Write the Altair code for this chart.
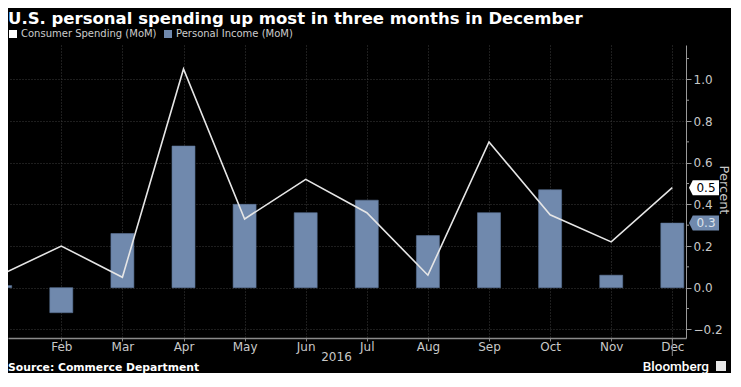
import altair as alt
import pandas as pd

# ---- data ----
month_nums = [1, 2, 3, 4, 5, 6, 7, 8, 9, 10, 11, 12]
month_labels = ["Jan", "Feb", "Mar", "Apr", "May", "Jun", "Jul", "Aug", "Sep", "Oct", "Nov", "Dec"]
spending = [0.06, 0.20, 0.05, 1.05, 0.33, 0.52, 0.36, 0.06, 0.70, 0.35, 0.22, 0.48]
income = [0.01, -0.12, 0.26, 0.68, 0.40, 0.36, 0.42, 0.25, 0.36, 0.47, 0.06, 0.31]
series_names = ["Consumer Spending (MoM)", "Personal Income (MoM)"]
major_ticks = [-0.2, 0.0, 0.2, 0.4, 0.6, 0.8, 1.0]
minor_ticks = [-0.1, 0.1, 0.3, 0.5, 0.7, 0.9, 1.1]
title_text = "U.S. personal spending up most in three months in December"
source_text = "Source: Commerce Department"
brand_text = "Bloomberg"
year_text = "2016"

BLUE = "#7089ad"
W, H = 678, 293
FONT = "DejaVu Sans"

df = pd.DataFrame({"m": month_nums, "spending": spending, "income": income,
                   "series": [series_names[1]] * 12})

xscale = alt.Scale(domain=[1.1277, 12.224], nice=False, zero=False)
yscale = alt.Scale(domain=[-0.2415, 1.165], nice=False, zero=False)

label_expr = "[" + ",".join("'%s'" % s for s in month_labels) + "][datum.value-1]"

xaxis = alt.Axis(values=month_nums[1:], labelExpr=label_expr, title=None,
                 grid=True, gridColor="#3c3c3c", gridDash=[1, 2], gridWidth=1,
                 domainColor="#8a8a8a", domainWidth=1.5, tickColor="#8a8a8a",
                 tickSize=3, labelPadding=0, labelFontSize=12, labelColor="#c8c8c8",
                 labelFont=FONT)
yaxis = alt.Axis(orient="right", values=major_ticks, format=".1f", title="Percent",
                 grid=True, gridColor="#3c3c3c", gridDash=[1, 2], gridWidth=1,
                 domainColor="#9a9a9a", tickColor="#9a9a9a", tickSize=5,
                 labelPadding=2, labelFontSize=12, labelColor="#c8c8c8", labelFont=FONT,
                 titleFont=FONT, titleFontSize=13, titleFontWeight="normal",
                 titleColor="#c8c8c8", titleAngle=90, titleX=37, titleY=H / 2 - 2,
                 titleAlign="center", titleBaseline="middle")

base = alt.Chart(df)

bars = base.mark_bar(clip=True, stroke="#5d7598", strokeWidth=0.6).transform_calculate(
    x0="datum.m - 0.188", x1="datum.m + 0.188"
).encode(
    x=alt.X("x0:Q", scale=xscale, axis=xaxis),
    x2="x1:Q",
    y=alt.Y("income:Q", scale=yscale, axis=yaxis),
    y2=alt.datum(0),
    color=alt.Color("series:N",
                    scale=alt.Scale(domain=series_names, range=["#ffffff", BLUE]),
                    legend=alt.Legend(orient="none", legendX=0, legendY=-16,
                                      direction="horizontal", title=None,
                                      symbolType="square", symbolSize=64,
                                      symbolStrokeWidth=0, labelFont=FONT,
                                      labelFontSize=10, labelColor="#cccccc",
                                      labelOffset=3, columnPadding=6)),
)

line = base.mark_line(clip=True, color="#e6e6e6", strokeWidth=1.6).encode(
    x=alt.X("m:Q", scale=xscale),
    y=alt.Y("spending:Q", scale=yscale),
)

minor = alt.Chart(pd.DataFrame({"v": minor_ticks})).mark_rule(color="#9a9a9a").encode(
    x=alt.value(W), x2=alt.value(W + 3),
    y=alt.Y("v:Q", scale=yscale),
)

# right-hand value badges
last = pd.DataFrame({"v": [spending[-1], income[-1]],
                     "lab": ["%.1f" % spending[-1], "%.1f" % income[-1]],
                     "fill": ["#ffffff", BLUE], "tc": ["#000000", "#dde3ec"]})
badge_path = "M-1,0 L-0.75,-0.5 L1,-0.5 L1,0.5 L-0.75,0.5 Z"
badges = alt.Chart(last).mark_point(shape=badge_path, filled=True, size=900,
                                    opacity=1, strokeWidth=0).encode(
    x=alt.value(696), y=alt.Y("v:Q", scale=yscale),
    fill=alt.Fill("fill:N", scale=None),
)
badge_text = alt.Chart(last).mark_text(font=FONT, fontSize=12, align="center",
                                       baseline="middle").encode(
    x=alt.value(698), y=alt.Y("v:Q", scale=yscale), text="lab:N",
    color=alt.Color("tc:N", scale=None),
)

one = pd.DataFrame({"a": [0]})
title = alt.Chart(one).mark_text(text=title_text, font=FONT, fontSize=16.5,
                                 fontWeight="bold", color="#ffffff", align="left",
                                 baseline="alphabetic").encode(
    x=alt.value(0), y=alt.value(-21))
year = alt.Chart(one).mark_text(text=year_text, font=FONT, fontSize=12,
                                color="#c8c8c8", align="center", baseline="middle").encode(
    x=alt.value(328.5), y=alt.value(312))
year_tick = alt.Chart(one).mark_rule(color="#8a8a8a").encode(
    x=alt.datum(12), y=alt.value(H), y2=alt.value(H + 18))
source = alt.Chart(one).mark_text(text=source_text, font=FONT, fontSize=10.8,
                                  fontWeight="bold", color="#ffffff", align="left",
                                  baseline="alphabetic").encode(
    x=alt.value(0), y=alt.value(326))
brand = alt.Chart(one).mark_text(text=brand_text, font="Roboto", fontSize=13.5,
                                 fontWeight=500, color="#ffffff", align="right",
                                 baseline="alphabetic").encode(
    x=alt.value(701), y=alt.value(326))
icon = alt.Chart(one).mark_square(size=100, color="#e8e8e8", opacity=1).encode(
    x=alt.value(713), y=alt.value(321))

chart = alt.layer(bars, line, minor, badges, badge_text, title, year, year_tick,
                  source, brand, icon).properties(
    width=W, height=H, autosize="none",
    padding={"left": 0, "top": 37, "right": 45, "bottom": 35},
    background="#000000",
).configure_view(stroke=None)

chart.save("out.html", embed_options={"renderer": "svg", "actions": False})
